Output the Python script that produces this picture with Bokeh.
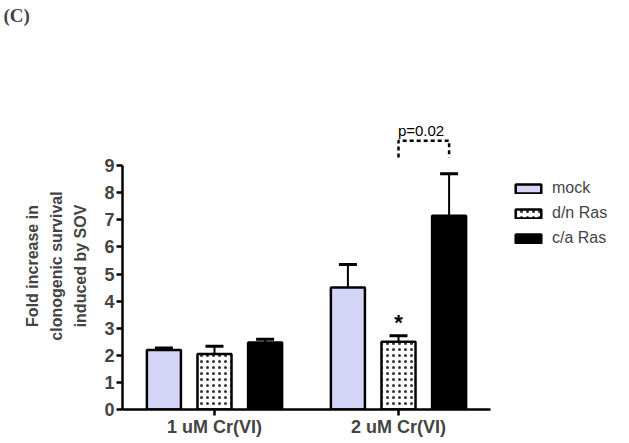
from bokeh.plotting import figure
from bokeh.layouts import column
from bokeh.models import (ColumnDataSource, Whisker, TeeHead, Legend, LegendItem,
                          FixedTicker, Range1d)
from bokeh.core.properties import value
from bokeh.embed import file_html
from bokeh.resources import INLINE

# ---- data ----
groups = ["1 uM Cr(VI)", "2 uM Cr(VI)"]
series = ["mock", "d/n Ras", "c/a Ras"]
mock_vals = [2.2, 4.5]
mock_errs = [0.07, 0.85]
dn_vals = [2.05, 2.5]
dn_errs = [0.28, 0.22]
ca_vals = [2.47, 7.15]
ca_errs = [0.12, 1.55]
y_ticks = [0, 1, 2, 3, 4, 5, 6, 7, 8, 9]
star_label = "*"
p_label = "p=0.02"
y_title = "Fold increase in\nclonogenic survival\ninduced by SOV"
panel_tag = "(C)"

FONT = "Liberation Sans"
group_x = [1, 3]
offsets = [-0.55, 0.0, 0.55]
bar_w = 0.37

TOTAL_W = 625
TAG_H = 40
LEFT = 122

# ---- header strip with the panel tag (as a title, which is not clipped) ----
ph = figure(output_backend="svg", toolbar_location=None, width=TOTAL_W, height=TAG_H,
            x_axis_type=None, y_axis_type=None, min_border=0,
            min_border_left=LEFT, min_border_right=2,
            x_range=Range1d(0, 1), y_range=Range1d(0, 1), title=panel_tag)
ph.outline_line_color = None
ph.grid.visible = False
ph.title.align = "left"
ph.title.vertical_align = "top"
ph.title.offset = 3 - LEFT
ph.title.standoff = 8
ph.title.text_font = "Liberation Serif"
ph.title.text_font_style = "bold"
ph.title.text_font_size = "19px"

# ---- main chart ----
FRAME_W = 501
FRAME_H = 287
p = figure(output_backend="svg", toolbar_location=None,
           frame_width=FRAME_W, frame_height=FRAME_H,
           min_border_left=LEFT, min_border_right=2, min_border_top=122 - TAG_H,
           min_border_bottom=30,
           x_range=Range1d(0, FRAME_W / 92.0), y_range=Range1d(0, FRAME_H / 27.1))
p.outline_line_color = None
p.grid.visible = False
p.background_fill_color = "white"

styles = [
    dict(fill_color="#d5d5f7", hatch_pattern=None),
    dict(fill_color="white", hatch_pattern="dot", hatch_color="#333333", hatch_scale=6, hatch_weight=1),
    dict(fill_color="black", hatch_pattern=None),
]
vals_all = [mock_vals, dn_vals, ca_vals]
errs_all = [mock_errs, dn_errs, ca_errs]

items = []
for i, (name, vals, errs, st) in enumerate(zip(series, vals_all, errs_all, styles)):
    xs = [g + offsets[i] for g in group_x]
    src = ColumnDataSource(dict(x=xs, top=vals, lower=vals,
                                upper=[v + e for v, e in zip(vals, errs)]))
    kw = dict(st)
    hp = kw.pop("hatch_pattern")
    extra = {}
    if hp:
        extra = dict(hatch_pattern=hp, hatch_color=kw.pop("hatch_color"),
                     hatch_scale=kw.pop("hatch_scale"), hatch_weight=kw.pop("hatch_weight"))
    w = Whisker(source=src, base="x", lower="lower", upper="upper",
                line_color="black", line_width=2,
                upper_head=TeeHead(size=18, line_width=3, line_color="black"),
                lower_head=None, level="underlay")
    p.add_layout(w)
    r = p.vbar(x="x", top="top", width=bar_w, bottom=0, source=src,
               line_color="black", line_width=2.5, **kw, **extra)
    items.append(LegendItem(label=name, renderers=[r]))

# significance star over d/n Ras, group 2
sx = group_x[1] + offsets[1]
sy = dn_vals[1] + dn_errs[1]
p.text(x=[sx], y=[sy], text=[star_label], text_font=value(FONT), text_font_style="bold",
       text_font_size="22px", text_align="center", text_baseline="bottom", y_offset=-1)

# bracket between d/n Ras and c/a Ras at group 2
ymax = ca_vals[1] + ca_errs[1]
bx0 = group_x[1] + offsets[1]
bx1 = group_x[1] + offsets[2]
b_lo = ymax + 0.6
b_hi = ymax + 1.22
p.line(x=[bx0, bx0, bx1, bx1], y=[b_lo, b_hi, b_hi, b_lo], line_color="black",
       line_width=2.5, line_dash="4 3")
p.text(x=[(bx0 + bx1) / 2 - 0.03], y=[b_hi], text=[p_label], text_font=value(FONT),
       text_font_size="15px", text_align="center", text_baseline="bottom", y_offset=-2)

# axes
ya = p.yaxis[0]
ya.bounds = (0, 9)
ya.ticker = FixedTicker(ticks=y_ticks)
ya.axis_line_width = 2.5
ya.major_tick_line_width = 2.5
ya.major_tick_out = 6
ya.major_tick_in = 0
ya.minor_tick_line_color = None
ya.major_label_text_font = FONT
ya.major_label_text_font_style = "bold"
ya.major_label_text_font_size = "18px"
ya.major_label_standoff = 2
ya.axis_label = y_title
ya.axis_label_text_font = FONT
ya.axis_label_text_font_style = "bold"
ya.axis_label_text_font_size = "16px"
ya.axis_label_text_line_height = 1.44
ya.axis_label_standoff = 12

xa = p.xaxis[0]
xa.bounds = (0, 4)
xa.ticker = FixedTicker(ticks=group_x)
xa.major_label_overrides = {g: lab for g, lab in zip(group_x, groups)}
xa.axis_line_width = 2.5
xa.major_tick_line_width = 2.5
xa.major_tick_out = 6
xa.major_tick_in = 0
xa.minor_tick_line_color = None
xa.major_label_text_font = FONT
xa.major_label_text_font_style = "bold"
xa.major_label_text_font_size = "18px"
xa.major_label_standoff = 1

legend = Legend(items=items, location=(390, 162), orientation="vertical",
                glyph_width=32, glyph_height=11, label_height=11, spacing=7,
                label_standoff=8, padding=0, margin=0,
                border_line_alpha=0, background_fill_alpha=0,
                label_text_font=FONT, label_text_font_size="16px")
p.add_layout(legend)

layout = column(ph, p, spacing=0)
open("out.html", "w").write(file_html(layout, INLINE))
